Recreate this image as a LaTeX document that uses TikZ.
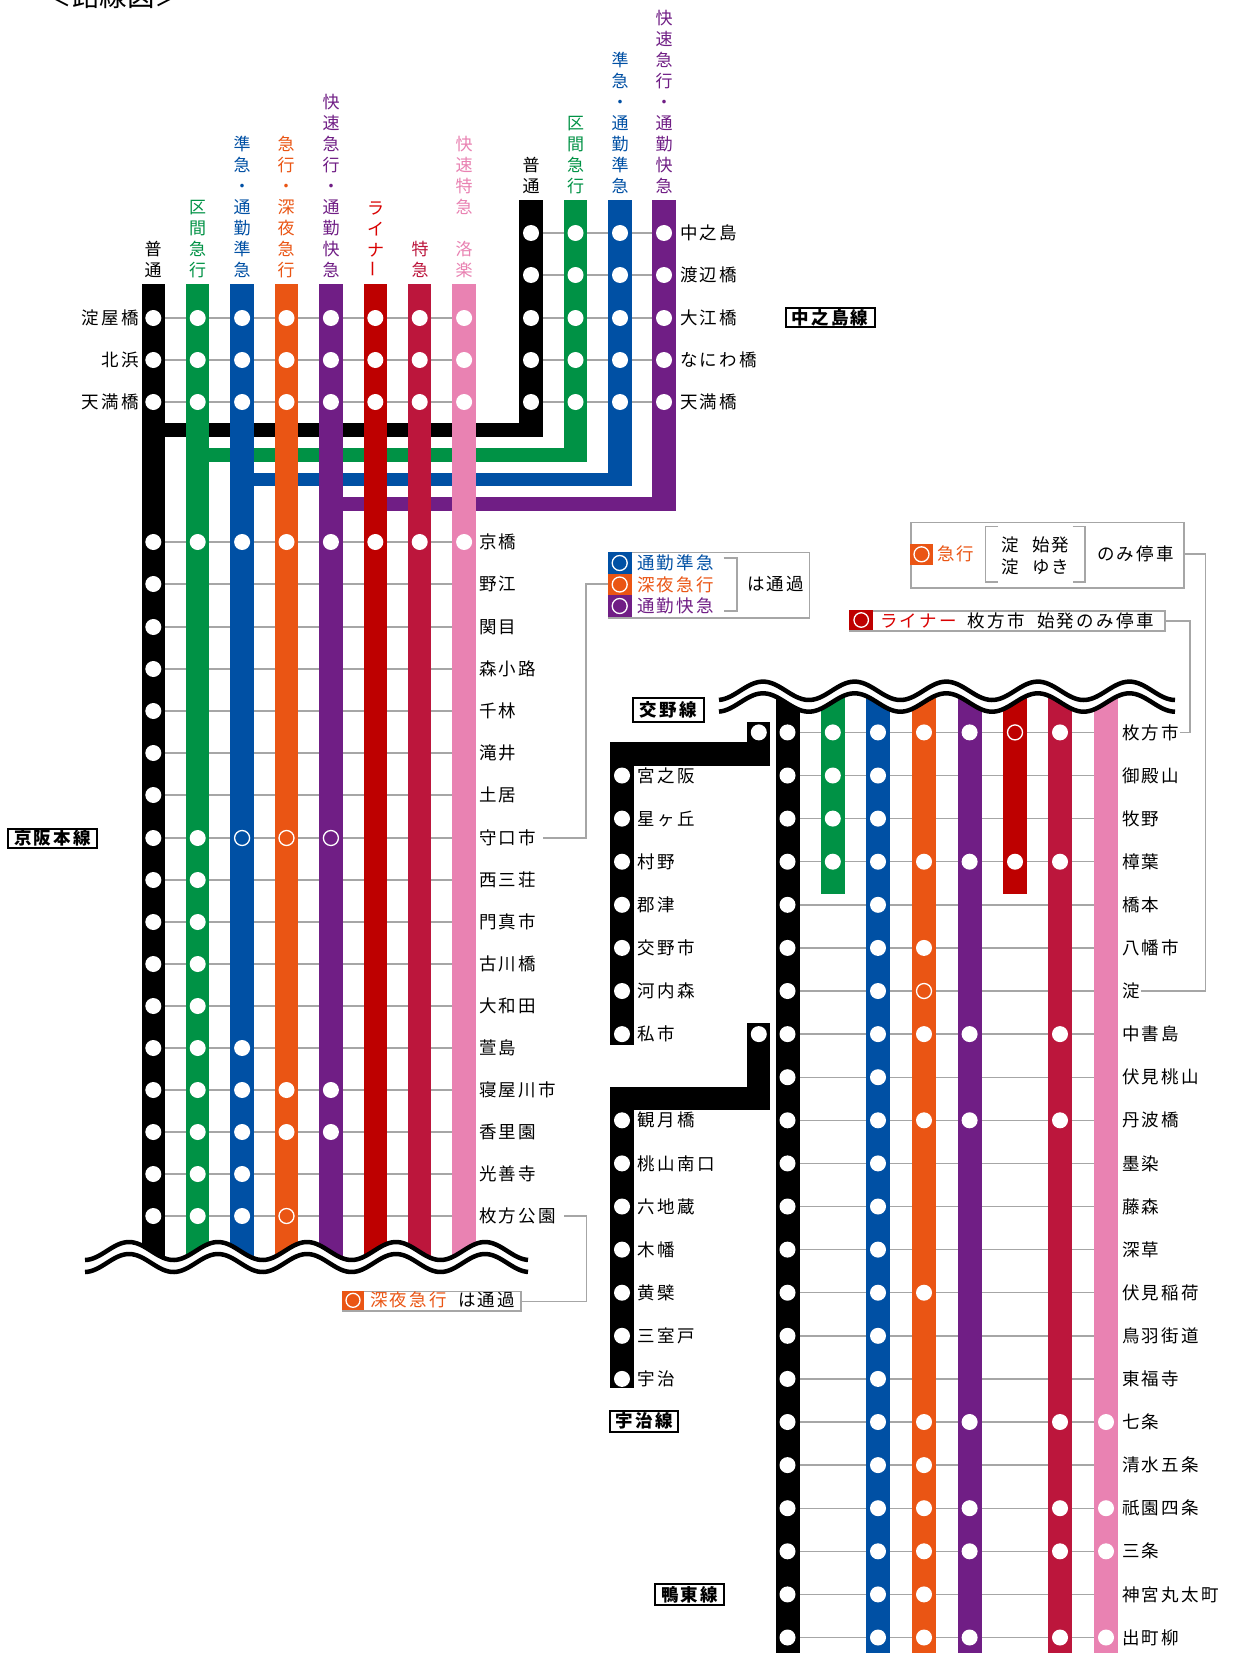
\documentclass[tikz,border=0pt]{standalone}
\usepackage{fontspec}
\usepackage{graphicx}
\newfontfamily\jp[LetterSpace=13]{Noto Sans CJK JP}
\newfontfamily\jpv{Noto Sans CJK JP}
\definecolor{cblack}{HTML}{000000}
\definecolor{cgreen}{HTML}{009245}
\definecolor{cblue}{HTML}{0050A4}
\definecolor{corange}{HTML}{EA5514}
\definecolor{cpurple}{HTML}{701E85}
\definecolor{cred}{HTML}{BE0000}
\definecolor{ccrim}{HTML}{BC163C}
\definecolor{cpink}{HTML}{E982B2}
\definecolor{cgray}{HTML}{A6A6A6}
\def\mrow#1{\ifcase#1 542\or 584\or 627\or 669\or 711\or 753\or 795\or 838\or 880\or 922\or 964\or 1006\or 1048\or 1090\or 1132\or 1174\or 1216\fi}
\tikzset{
  stn/.style={circle,fill=white,minimum size=16pt,inner sep=0pt},
  hol/.style={circle,draw=white,line width=1.3pt,minimum size=15pt,inner sep=0pt},
  lab/.style={font=\jp\fontsize{17.5}{21}\selectfont,inner sep=0pt,text=black},
  labw/.style={lab,anchor=west},
  labe/.style={lab,anchor=east},
  vlab/.style={font=\jpv\fontsize{17}{21}\selectfont,align=center,inner sep=0pt,anchor=south},
  linebox/.style={draw=black,line width=2pt,fill=white,inner sep=0pt,font=\jp\bfseries\fontsize{17.5}{21}\selectfont,text=black,minimum height=19pt},
  grayline/.style={draw=cgray,line width=1.4pt},
  leader/.style={draw=cgray,line width=1.2pt},
  legbox/.style={draw=cgray,line width=1.5pt,fill=white},
  wave/.style={draw=black,line width=4.5pt}
}
\begin{document}
\begin{tikzpicture}[x=1pt,y=-1pt]
\useasboundingbox (0,0) rectangle (1232,1653);
\fill[white] (0,0) rectangle (1232,1653);
\node[font=\jpv\fontsize{27.5}{27.5}\selectfont,inner sep=0pt] (title) at (113.5,-4) {＜路線図＞};
% ---------- main line
\foreach \r in {233,275,318,360,402}{
  \coordinate (bl\r) at (531,\r); \coordinate (br\r) at (664,\r);
  \draw[grayline] (bl\r) -- (br\r);
}
\foreach \r in {318,360,402}{
  \coordinate (ml\r) at (153,\r); \coordinate (mr\r) at (464,\r);
  \draw[grayline] (ml\r) -- (mr\r);
}
\foreach \i in {0,...,16}{
  \edef\yy{\mrow{\i}}
  \coordinate (mL\i) at (153,\yy); \coordinate (mR\i) at (464,\yy);
  \draw[grayline] (mL\i) -- (mR\i);
}
% horizontal links
\fill[cblack] (153,423) rectangle (542.5,436.5);
\fill[cgreen] (197.5,448) rectangle (587,461.5);
\fill[cblue] (242,472.5) rectangle (631.7,486);
\fill[cpurple] (331,497) rectangle (676,510.7);
% branch rails
\fill[cblack] (519.2,200) rectangle (542.7,436.5);
\fill[cgreen] (563.7,200) rectangle (587.2,461.5);
\fill[cblue] (608.2,200) rectangle (631.7,486);
\fill[cpurple] (652.2,200) rectangle (675.7,510.7);
% main rails
\foreach \n/\c in {0/cblack,1/cgreen,2/cblue,3/corange,4/cpurple,5/cred,6/ccrim,7/cpink}{
  \pgfmathsetmacro\xx{153.3+44.4*\n}
  \fill[\c] (\xx-11.75,284) rectangle (\xx+11.75,1262);
}
% branch dots
\foreach \r in {233,275,318,360,402}{
  \foreach \xx/\k in {531/a,575.5/b,620/c,664/d}{ \node[stn] (bd\k\r) at (\xx,\r) {}; }
}
% main top dots
\foreach \r in {318,360,402}{
  \foreach \n in {0,...,7}{ \node[stn] (t\n-\r) at ({153.3+44.4*\n},\r) {}; }
}
% main stops: row / filled rails
\foreach \i/\lst in {0/{0,1,2,3,4,5,6,7},1/{0},2/{0},3/{0},4/{0},5/{0},6/{0},7/{0,1},8/{0,1},9/{0,1},10/{0,1},11/{0,1},12/{0,1,2},13/{0,1,2,3,4},14/{0,1,2,3,4},15/{0,1,2},16/{0,1,2}}{
  \edef\yy{\mrow{\i}}
  \foreach \n in \lst { \node[stn] (m\i-\n) at ({153.3+44.4*\n},\yy) {}; }
}
\foreach \i/\n in {7/2,7/3,7/4,16/3}{
  \edef\yy{\mrow{\i}}
  \node[hol] (mh\i-\n) at ({153.3+44.4*\n},\yy) {};
}
% main wave
\fill[white] plot[domain=85:528,samples=160] (\x,{1251-9*cos((\x-129)/89*360)}) -- (528,1290) -- (85,1290) -- cycle;
\draw[wave] plot[domain=85:528,samples=160] (\x,{1251-9*cos((\x-129)/89*360)});
\draw[wave] plot[domain=85:528,samples=160] (\x,{1263-9*cos((\x-129)/89*360)});
% vertical labels main
\node[vlab,text=black] (v0) at (153,278) {普\\通};
\node[vlab,text=cgreen] (v1) at (197.5,278) {区\\間\\急\\行};
\node[vlab,text=cblue] (v2) at (242,278) {準\\急\\・\\通\\勤\\準\\急};
\node[vlab,text=corange] (v3) at (286,278) {急\\行\\・\\深\\夜\\急\\行};
\node[vlab,text=cpurple] (v4) at (331,278) {快\\速\\急\\行\\・\\通\\勤\\快\\急};
\node[vlab,text=red!85!black] (v5) at (375.5,278) {ラ\\イ\\ナ\\\rotatebox{90}{ー}};
\node[vlab,text=ccrim] (v6) at (420,278) {特\\急};
\node[vlab,text=cpink] (v7) at (464,278) {快\\速\\特\\急\\\hphantom{快}\\洛\\楽};
\node[vlab,text=black] (w0) at (531,194) {普\\通};
\node[vlab,text=cgreen] (w1) at (575.5,194) {区\\間\\急\\行};
\node[vlab,text=cblue] (w2) at (620,194) {準\\急\\・\\通\\勤\\準\\急};
\node[vlab,text=cpurple] (w3) at (664,194) {快\\速\\急\\行\\・\\通\\勤\\快\\急};
% station labels
\foreach \r/\t in {318/淀屋橋,360/北浜,402/天満橋}{ \node[labe] (ll\r) at (139,\r) {\t}; }
\foreach \r/\t in {233/中之島,275/渡辺橋,318/大江橋,360/なにわ橋,402/天満橋}{ \node[labw] (lb\r) at (680,\r) {\t}; }
\foreach \i/\t in {0/京橋,1/野江,2/関目,3/森小路,4/千林,5/滝井,6/土居,7/守口市,8/西三荘,9/門真市,10/古川橋,11/大和田,12/萱島,13/寝屋川市,14/香里園,15/光善寺,16/枚方公園}{
  \edef\yy{\mrow{\i}}
  \node[labw] (lm\i) at (479,\yy) {\t};
}
\node[linebox,minimum width=89pt] (keihan) at (52.5,838) {京阪本線};
\node[linebox,minimum width=89pt] (nakano) at (830,317.5) {中之島線};
% ---------- legends
\node[legbox,minimum width=200.7pt,minimum height=65.3pt,anchor=north west] (leg1) at (608,551.7) {};
\foreach \c/\y/\t in {cblue/563/通勤準急,corange/584.5/深夜急行,cpurple/606/通勤快急}{
  \fill[\c] (608,\y-11) rectangle (631.5,\y+11);
  \node[hol] (lg\c) at (619.7,\y) {};
  \node[labw,text=\c] (lt\c) at (637,\y) {\t};
}
\draw[leader] (723.5,558) -- (737,558) -- (737,611) -- (723.5,611);
\node[labw] (ha1) at (747,584) {は通過};
\node[legbox,minimum width=178pt,minimum height=19.3pt,anchor=north west] (leg2) at (342,1290.7) {};
\fill[corange] (342,1290.7) rectangle (364,1310);
\node[hol,minimum size=14pt] (lg2) at (353,1300.3) {};
\node[labw,text=corange] (lt2) at (370,1300.3) {深夜急行};
\node[labw] (ha2) at (458,1300.3) {は通過};
\node[legbox,minimum width=273pt,minimum height=65.3pt,anchor=north west] (leg3) at (910,521.7) {};
\fill[corange] (910,543.7) rectangle (933,565);
\node[hol] (lg3) at (921.5,554.3) {};
\node[labw,text=corange] (lt3) at (937,554.3) {急行};
\draw[draw=cgray,line width=1.2pt] (998,526.7) -- (985.4,526.7) -- (985.4,582) -- (998,582);
\draw[draw=cgray,line width=1.2pt] (1072.7,526.7) -- (1085,526.7) -- (1085,582) -- (1072.7,582);
\node[labw] (yd1) at (1001,545) {淀};
\node[labw] (yd1b) at (1032,545) {始発};
\node[labw] (yd2) at (1001,567) {淀};
\node[labw] (yd2b) at (1032,567) {ゆき};
\node[labw] (nomi1) at (1097,554) {のみ停車};
\node[legbox,minimum width=314.6pt,minimum height=20pt,anchor=north west] (leg4) at (849.4,610) {};
\fill[cred] (849.4,610) rectangle (873,630);
\node[hol,minimum size=14.5pt] (lg4) at (861.2,620) {};
\node[labw,text=red!85!black] (lt4) at (880,621) {ライナー};
\node[labw] (lt4b) at (967.5,621) {枚方市};
\node[labw] (lt4c) at (1037,621) {始発のみ停車};
% ---------- right section
\foreach \j in {0,...,21}{
  \pgfmathsetmacro\yy{732.4+43.1*\j}
  \coordinate (rL\j) at (787.5,\yy); \coordinate (rR\j) at (1106,\yy);
  \draw[grayline] (rL\j) -- (rR\j);
}
\foreach \xx/\c/\a/\b in {787.5/cblack/680/1653,878/cblue/680/1653,924/corange/680/1653,969.6/cpurple/680/1653,1060/ccrim/680/1653,1106/cpink/680/1653,832.8/cgreen/680/894.3,1015/cred/680/894.3}{
  \fill[\c] (\xx-12,\a) rectangle (\xx+12,\b);
}
\foreach \j/\lst in {0/{787.5,832.8,878,924,969.6,1060},1/{787.5,832.8,878},2/{787.5,832.8,878},3/{787.5,832.8,878,924,969.6,1015,1060},4/{787.5,878},5/{787.5,878,924},6/{787.5,878},7/{787.5,878,924,969.6,1060},8/{787.5,878},9/{787.5,878,924,969.6,1060},10/{787.5,878},11/{787.5,878},12/{787.5,878},13/{787.5,878,924},14/{787.5,878},15/{787.5,878},16/{787.5,878,924,969.6,1060,1106},17/{787.5,878,924},18/{787.5,878,924,969.6,1060,1106},19/{787.5,878,924,969.6,1060,1106},20/{787.5,878,924},21/{787.5,878,924,969.6,1060,1106}}{
  \pgfmathsetmacro\yy{732.4+43.1*\j}
  \foreach \xx in \lst { \node[stn] at (\xx,\yy) {}; }
}
\node[hol] (rh0) at (1015,732.4) {};
\node[hol] (rh6) at (924,991) {};
% right wave
\fill[white] plot[domain=719:1175,samples=160] (\x,{702.5-9.2*cos((\x-763)/91.6*360)}) -- (1175,660) -- (719,660) -- cycle;
\draw[wave] plot[domain=719:1175,samples=160] (\x,{690.8-9.2*cos((\x-763)/91.6*360)});
\draw[wave] plot[domain=719:1175,samples=160] (\x,{702.5-9.2*cos((\x-763)/91.6*360)});
\foreach \j/\t in {0/枚方市,1/御殿山,2/牧野,3/樟葉,4/橋本,5/八幡市,6/淀,7/中書島,8/伏見桃山,9/丹波橋,10/墨染,11/藤森,12/深草,13/伏見稲荷,14/鳥羽街道,15/東福寺,16/七条,17/清水五条,18/祇園四条,19/三条,20/神宮丸太町,21/出町柳}{
  \pgfmathsetmacro\yy{732.4+43.1*\j}
  \node[labw] (lr\j) at (1122,\yy) {\t};
}
% Katano line
\fill[cblack] (747,721.7) rectangle (770.4,766);
\fill[cblack] (610.2,742.3) rectangle (770.4,766);
\fill[cblack] (610.2,742.3) rectangle (634.4,1045);
\node[stn] (k0) at (758.8,732.4) {};
\foreach \j/\t in {1/宮之阪,2/星ヶ丘,3/村野,4/郡津,5/交野市,6/河内森,7/私市}{
  \pgfmathsetmacro\yy{732.4+43.1*\j}
  \node[stn] (kd\j) at (622,\yy) {};
  \node[labw] (kl\j) at (637.5,\yy) {\t};
}
% Uji line
\fill[cblack] (746.7,1023.3) rectangle (770.3,1110.3);
\fill[cblack] (610.2,1086.7) rectangle (770.3,1110.3);
\fill[cblack] (610.2,1086.7) rectangle (634.4,1388);
\node[stn] (u0) at (758.8,1034.1) {};
\foreach \j/\t in {9/観月橋,10/桃山南口,11/六地蔵,12/木幡,13/黄檗,14/三室戸,15/宇治}{
  \pgfmathsetmacro\yy{732.4+43.1*\j}
  \node[stn] (ud\j) at (622,\yy) {};
  \node[labw] (ul\j) at (637.5,\yy) {\t};
}
\node[linebox,minimum width=71pt,minimum height=24pt] (katano) at (668.4,709.7) {交野線};
\node[linebox,minimum width=68pt,minimum height=21pt] (uji) at (644,1421.3) {宇治線};
\node[linebox,minimum width=69pt,minimum height=21pt] (oto) at (689.7,1594.5) {鴨東線};
% leaders
\coordinate (c1) at (586,584);
\coordinate (c2) at (586,838);
\coordinate (c3) at (543,838);
\draw[leader] (608,584) -- (c1) -- (c2) -- (c3);
\coordinate (c5) at (586.6,1216);
\coordinate (c4) at (leg2.east -| c5);
\coordinate (c6) at (564,1216);
\draw[leader] (leg2.east) -- (c4) -- (c5) -- (c6);
\coordinate (c7) at (1190,621);
\coordinate (c8) at (1190,732.4);
\coordinate (c9) at (1180,732.4);
\draw[leader] (1164.4,621) -- (c7) -- (c8) -- (c9);
\coordinate (c10) at (1205.8,554);
\coordinate (c11) at (1205.8,991);
\coordinate (c12) at (1141,991);
\draw[leader] (1183,554) -- (c10) -- (c11) -- (c12);
\end{tikzpicture}
\end{document}
